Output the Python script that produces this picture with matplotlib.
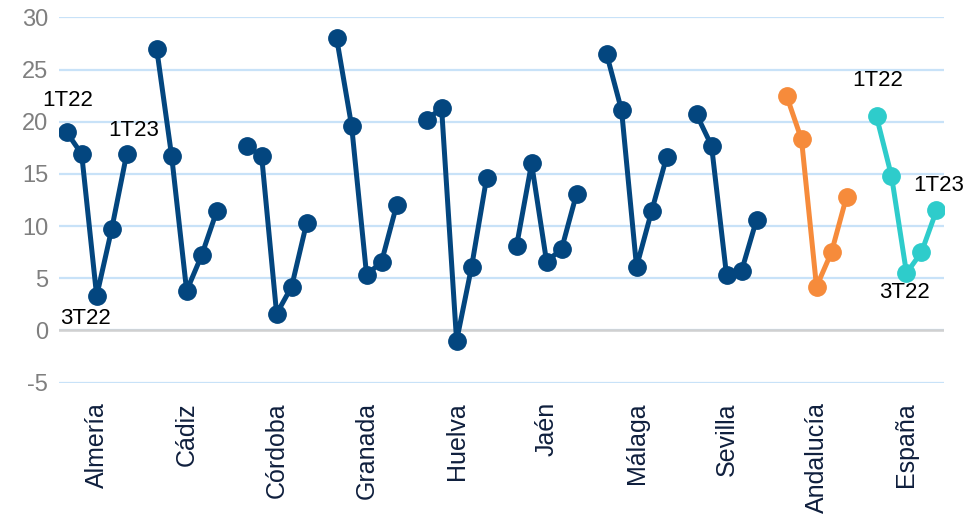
import numpy as np
import matplotlib.pyplot as plt

plt.rcParams['font.family'] = ['Liberation Sans', 'DejaVu Sans']
plt.rcParams['axes.unicode_minus'] = False

# provincias / agregados
categorias = ['Almería', 'Cádiz', 'Córdoba', 'Granada', 'Huelva',
              'Jaén', 'Málaga', 'Sevilla', 'Andalucía', 'España']
trimestres = ['1T22', '2T22', '3T22', '4T22', '1T23']

# valores por trimestre (1T22 .. 1T23)
almeria = [19.0, 16.9, 3.3, 9.7, 16.9]
cadiz = [27.0, 16.7, 3.8, 7.2, 11.4]
cordoba = [17.7, 16.7, 1.6, 4.2, 10.3]
granada = [28.0, 19.6, 5.3, 6.6, 12.0]
huelva = [20.2, 21.3, -1.0, 6.1, 14.6]
jaen = [8.1, 16.0, 6.6, 7.8, 13.1]
malaga = [26.5, 21.1, 6.1, 11.4, 16.6]
sevilla = [20.7, 17.7, 5.3, 5.7, 10.6]
andalucia = [22.5, 18.3, 4.2, 7.5, 12.8]
espana = [20.5, 14.8, 5.5, 7.5, 11.5]

series = [almeria, cadiz, cordoba, granada, huelva,
          jaen, malaga, sevilla, andalucia, espana]
colores = ['#03467f'] * 8 + ['#f68b3b', '#2ecccb']

fig = plt.figure(figsize=(9.67, 5.17), dpi=100)
ax = fig.add_axes([0.0612, 0.2598, 0.915, 0.7067])

# 5 puntos por grupo + un hueco entre grupos
paso = len(trimestres) + 1
for g, (vals, col) in enumerate(zip(series, colores)):
    xs = np.arange(len(vals)) + g * paso
    ax.plot(xs, vals, color=col, lw=3.6, marker='o', ms=12.5,
            solid_capstyle='round', zorder=3)

ax.set_xlim(-0.5, (len(categorias) - 1) * paso + len(trimestres) - 0.5)
ax.set_ylim(-5, 30)
ax.set_yticks(range(-5, 31, 5))
ax.yaxis.grid(True, color='#c8e2f8', lw=1.6)
ax.set_axisbelow(True)
ax.axhline(0, color='#d0d0d0', lw=1.8, zorder=1)
for s in ax.spines.values():
    s.set_visible(False)
ax.tick_params(axis='y', length=0, labelsize=17, labelcolor='#7f7f7f', pad=8)

centros = np.arange(len(categorias)) * paso + 2
ax.set_xticks(centros)
ax.set_xticklabels(categorias, rotation=90, fontsize=18, color='#0f1f3d',
                   va='top')
ax.tick_params(axis='x', length=0, pad=14)

# etiquetas de trimestre en Almería y España
def etiqueta(g, i, texto, dx, dy):
    x = g * paso + i
    ax.annotate(texto, (x, series[g][i]), xytext=(dx, dy),
                textcoords='offset pixels', ha='center', va='center',
                fontsize=16, color='black')

etiqueta(0, 0, '1T22', 1, 32)
etiqueta(0, 4, '1T23', 7, 24)
etiqueta(0, 2, '3T22', -11, -22)
etiqueta(9, 0, '1T22', 1, 36)
etiqueta(9, 4, '1T23', 2, 25)
etiqueta(9, 2, '3T22', -2, -19)

fig.savefig('out.png', dpi=100)
